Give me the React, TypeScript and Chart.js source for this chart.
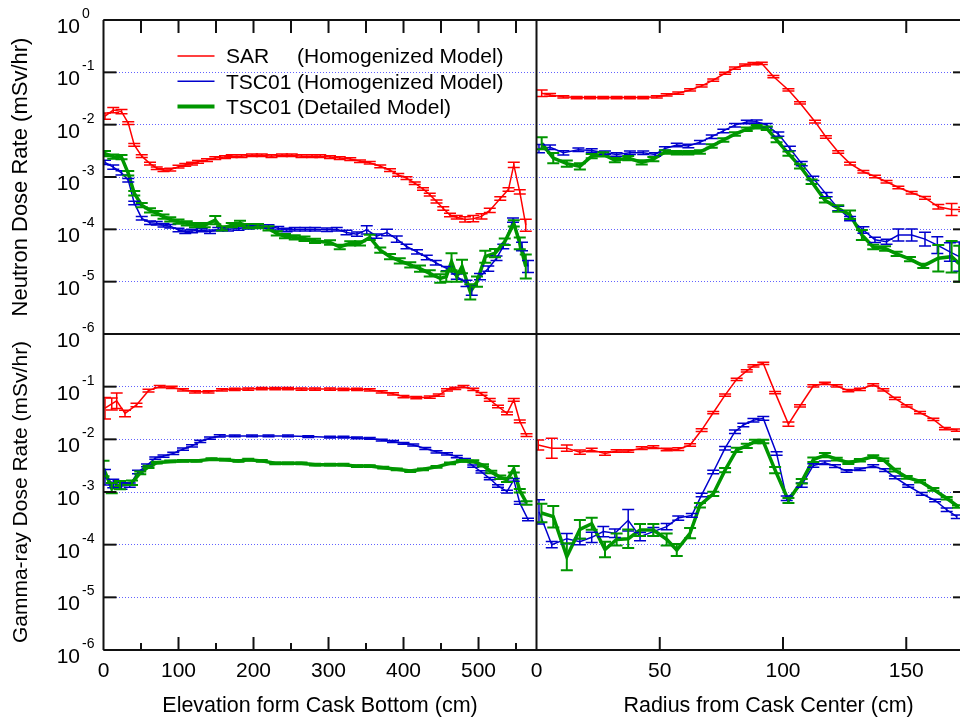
import React, { useEffect, useRef } from 'react';
import { Chart, registerables } from 'chart.js';
Chart.register(...registerables);

type Pt = [number, number, number]; // [position (cm), dose rate (mSv/hr), relative error]

// ---- Neutron, axial (elevation from cask bottom) ----
const neutronAxialSAR: Pt[] = [[2,0.0146,0.15],[13,0.019,0.12],[24,0.0178,0.1],[33,0.0107,0.06],[41,0.0041,0.06],[51,0.0025,0.06],[62,0.0018,0.06],[71,0.00147,0.06],[80,0.00135,0.06],[89,0.00138,0.06],[100,0.00158,0.06],[109,0.0017,0.06],[118,0.0018,0.06],[126,0.00195,0.06],[138,0.0021,0.06],[149,0.0023,0.06],[162,0.0024,0.06],[171,0.0025,0.06],[184,0.0025,0.06],[198,0.0026,0.06],[211,0.0026,0.06],[224,0.0025,0.06],[238,0.0026,0.06],[251,0.0026,0.06],[264,0.0025,0.06],[278,0.0025,0.06],[289,0.0025,0.06],[302,0.0024,0.06],[315,0.0023,0.06],[329,0.0022,0.06],[342,0.002,0.06],[355,0.00187,0.06],[369,0.0016,0.06],[382,0.00135,0.06],[393,0.0011,0.06],[404,0.00095,0.06],[415,0.00076,0.06],[426,0.00059,0.06],[435,0.00046,0.06],[444,0.00034,0.07],[453,0.00025,0.08],[462,0.000187,0.08],[471,0.00017,0.08],[482,0.000155,0.12],[493,0.00016,0.15],[504,0.000177,0.12],[515,0.00023,0.1],[529,0.00039,0.08],[540,0.00058,0.08],[547,0.0017,0.12],[555,0.00052,0.1],[563,0.00012,0.3]];
const neutronAxialTSCHom: Pt[] = [[2,0.0019,0.1],[13,0.00154,0.1],[24,0.0012,0.1],[33,0.00087,0.08],[41,0.00032,0.08],[51,0.000162,0.08],[62,0.000134,0.08],[71,0.00013,0.08],[80,0.00012,0.08],[89,0.000115,0.08],[100,0.000097,0.08],[109,0.00009,0.08],[118,0.000093,0.08],[131,0.000097,0.08],[142,0.00009,0.08],[153,0.0001,0.08],[166,0.0001,0.08],[180,0.000104,0.08],[193,0.00011,0.08],[206,0.000113,0.08],[220,0.000113,0.08],[233,0.000105,0.08],[244,0.000097,0.08],[255,0.0001,0.08],[269,0.0001,0.08],[282,0.0001,0.08],[298,0.000098,0.08],[311,0.0001,0.08],[324,0.000087,0.1],[338,0.000081,0.1],[351,0.0000975,0.2],[364,0.000074,0.1],[378,0.000087,0.15],[391,0.000065,0.15],[404,0.000047,0.1],[418,0.000037,0.1],[431,0.000029,0.1],[443,0.000023,0.1],[458,0.0000178,0.1],[471,0.0000125,0.12],[484,0.0000093,0.15],[491,0.0000069,0.25],[502,0.0000125,0.15],[513,0.0000178,0.12],[524,0.000028,0.1],[533,0.000047,0.1],[546,0.00015,0.1],[558,0.000047,0.2],[566,0.0000195,0.3]];
const neutronAxialTSCDet: Pt[] = [[2,0.0028,0.12],[13,0.00245,0.1],[24,0.0024,0.1],[33,0.00118,0.1],[41,0.00049,0.1],[51,0.00029,0.1],[62,0.00023,0.1],[71,0.000204,0.1],[80,0.000175,0.1],[89,0.000155,0.1],[100,0.00014,0.1],[111,0.00013,0.1],[122,0.00012,0.1],[135,0.00012,0.1],[149,0.00015,0.2],[158,0.000104,0.1],[171,0.00012,0.1],[182,0.00013,0.12],[193,0.000115,0.1],[206,0.000115,0.1],[220,0.000104,0.1],[231,0.000084,0.1],[242,0.000074,0.1],[255,0.00007,0.1],[268,0.000066,0.1],[282,0.00006,0.1],[302,0.000056,0.1],[315,0.000046,0.1],[329,0.000054,0.1],[342,0.000054,0.1],[355,0.00007,0.12],[369,0.00004,0.12],[382,0.00003,0.12],[395,0.000025,0.12],[409,0.000021,0.12],[422,0.0000178,0.15],[435,0.0000144,0.15],[449,0.0000115,0.2],[457,0.0000125,0.25],[464,0.000024,0.45],[471,0.0000125,0.25],[478,0.0000195,0.35],[489,0.0000064,0.4],[498,0.00001,0.25],[509,0.00003,0.3],[522,0.000035,0.2],[535,0.000058,0.15],[547,0.00013,0.15],[555,0.000054,0.3],[563,0.0000195,0.7]];

// ---- Neutron, radial ----
const neutronRadialSAR: Pt[] = [[2.1,0.0398,0.15],[5.5,0.037,0.06],[10.9,0.034,0.05],[16.3,0.033,0.05],[21.7,0.033,0.05],[27.1,0.033,0.05],[32.5,0.033,0.05],[37.9,0.033,0.05],[43.3,0.033,0.05],[48.8,0.034,0.05],[52.8,0.037,0.05],[57.5,0.04,0.05],[62.3,0.046,0.05],[67,0.055,0.05],[71.7,0.071,0.05],[76.5,0.096,0.05],[80.5,0.12,0.05],[84.6,0.138,0.05],[88,0.146,0.05],[91.4,0.148,0.05],[96.1,0.083,0.05],[102.2,0.046,0.05],[106.9,0.026,0.05],[113,0.0114,0.06],[117.4,0.0058,0.06],[122.4,0.003,0.06],[127.2,0.0018,0.06],[132.6,0.00126,0.06],[137.3,0.00102,0.06],[142,0.00081,0.06],[146.8,0.00063,0.06],[152.2,0.0005,0.06],[157.6,0.0004,0.06],[163,0.00027,0.1],[168.4,0.00024,0.3],[173.5,0.00024,0.1]];
const neutronRadialTSCHom: Pt[] = [[1,0.0035,0.2],[5.5,0.0037,0.1],[10.9,0.0029,0.1],[17,0.0033,0.08],[22.4,0.0032,0.08],[27.8,0.0029,0.08],[32.5,0.0027,0.08],[37.9,0.0029,0.08],[43.3,0.0029,0.08],[48.1,0.0027,0.08],[52.1,0.0035,0.08],[56.9,0.0041,0.08],[61.6,0.0039,0.08],[66.3,0.0046,0.08],[71.1,0.0059,0.08],[75.8,0.0076,0.08],[80.5,0.0098,0.08],[85.3,0.0112,0.08],[89.3,0.0114,0.08],[93.4,0.0098,0.08],[98.1,0.0066,0.1],[102.8,0.0035,0.1],[107.6,0.0018,0.1],[112.3,0.00094,0.1],[117.7,0.00046,0.1],[122.4,0.00025,0.1],[127.2,0.00016,0.1],[132.6,0.000097,0.15],[137.3,0.000063,0.12],[142,0.000058,0.12],[146.8,0.000078,0.3],[152.2,0.000078,0.3],[157.6,0.000065,0.35],[162.6,0.00005,0.45],[167.7,0.000037,0.5],[171.5,0.00003,0.9]];
const neutronRadialTSCDet: Pt[] = [[2.1,0.0044,0.3],[6.8,0.0023,0.25],[12.3,0.0018,0.15],[17.6,0.0016,0.15],[22.4,0.0025,0.1],[27.1,0.0027,0.1],[31.8,0.0021,0.1],[37.2,0.0023,0.1],[42.7,0.0019,0.1],[47.4,0.0022,0.1],[52.1,0.003,0.08],[56.9,0.0029,0.08],[61.6,0.0029,0.08],[66.3,0.003,0.08],[71.1,0.0039,0.08],[75.8,0.0051,0.08],[80.5,0.0066,0.08],[85.3,0.0082,0.08],[89.3,0.0091,0.08],[93.4,0.0085,0.08],[97.4,0.0051,0.1],[102.2,0.0028,0.1],[106.9,0.0016,0.1],[111.6,0.00081,0.1],[117,0.00036,0.1],[122.4,0.00025,0.15],[127.2,0.00019,0.2],[132,0.000078,0.25],[136.6,0.000046,0.1],[141.4,0.000043,0.1],[146.1,0.000034,0.1],[151.5,0.000027,0.1],[156.9,0.00002,0.1],[163,0.000028,0.8],[168.4,0.00003,1.0],[171.5,0.000022,1.2]];

// ---- Gamma-ray, axial ----
const gammaAxialSAR: Pt[] = [[2,0.039,0.6],[11,0.047,0.3],[17.6,0.054,0.4],[28.7,0.031,0.15],[44,0.045,0.08],[60,0.084,0.06],[75,0.1,0.05],[91,0.097,0.05],[106,0.087,0.05],[122,0.08,0.05],[140,0.08,0.05],[158,0.087,0.05],[175,0.089,0.05],[193,0.09,0.05],[211,0.092,0.05],[229,0.092,0.05],[246,0.092,0.05],[264,0.09,0.05],[282,0.09,0.05],[302,0.09,0.05],[320,0.089,0.05],[338,0.089,0.05],[355,0.087,0.05],[371,0.08,0.05],[386,0.073,0.05],[400,0.065,0.05],[417,0.062,0.05],[435,0.063,0.05],[447,0.069,0.05],[458,0.087,0.05],[469,0.093,0.05],[480,0.1,0.05],[493,0.089,0.05],[504,0.073,0.06],[515,0.056,0.06],[526,0.042,0.06],[538,0.031,0.06],[547,0.056,0.06],[555,0.022,0.06],[564,0.012,0.06]];
const gammaAxialTSCHom: Pt[] = [[2,0.0019,0.4],[13,0.00145,0.2],[24,0.0013,0.15],[35,0.00135,0.1],[46,0.0024,0.08],[58,0.0032,0.06],[69,0.0044,0.05],[80,0.0048,0.05],[93,0.0054,0.05],[106,0.0065,0.05],[118,0.0075,0.05],[129,0.0091,0.05],[142,0.0105,0.05],[155,0.0116,0.05],[175,0.0116,0.04],[198,0.0116,0.04],[220,0.0116,0.04],[246,0.0116,0.04],[273,0.0113,0.04],[302,0.011,0.04],[320,0.011,0.04],[338,0.0107,0.04],[355,0.0104,0.04],[371,0.0097,0.04],[386,0.0091,0.04],[400,0.0084,0.04],[413,0.0078,0.04],[429,0.0067,0.05],[444,0.0058,0.05],[458,0.0053,0.05],[471,0.0047,0.05],[482,0.0041,0.05],[493,0.0031,0.05],[504,0.0024,0.05],[515,0.0018,0.05],[526,0.0013,0.06],[538,0.00102,0.06],[547,0.0017,0.06],[555,0.00062,0.06],[566,0.0003,0.06]];
const gammaAxialTSCDet: Pt[] = [[0,0.0028,0.4],[11,0.00118,0.25],[22,0.00135,0.2],[38,0.0015,0.1],[49,0.0023,0.06],[60,0.003,0.05],[71,0.0036,0.04],[89,0.0038,0.04],[106,0.0039,0.04],[124,0.0039,0.04],[144,0.0042,0.04],[162,0.0041,0.04],[180,0.0039,0.04],[193,0.0041,0.04],[211,0.0039,0.04],[229,0.0035,0.04],[246,0.0035,0.04],[264,0.0035,0.04],[282,0.0033,0.04],[302,0.0033,0.04],[320,0.0033,0.04],[338,0.0031,0.04],[355,0.0031,0.04],[373,0.0029,0.04],[391,0.0027,0.04],[409,0.0025,0.04],[426,0.0027,0.04],[444,0.003,0.04],[462,0.0035,0.04],[478,0.0039,0.04],[493,0.0038,0.05],[506,0.0032,0.05],[517,0.0024,0.06],[529,0.0019,0.08],[538,0.0017,0.1],[547,0.0027,0.15],[555,0.00106,0.08],[564,0.00062,0.08]];

// ---- Gamma-ray, radial ----
const gammaRadialSAR: Pt[] = [[0.7,0.0078,0.25],[6.2,0.0068,0.55],[12.3,0.0068,0.15],[17.6,0.0057,0.1],[22.4,0.0063,0.08],[27.8,0.0054,0.08],[32.5,0.006,0.06],[37.2,0.006,0.06],[42.7,0.0068,0.06],[47.4,0.0071,0.06],[52.8,0.0064,0.06],[57.5,0.0065,0.06],[62.3,0.0078,0.06],[67,0.015,0.06],[71.7,0.032,0.05],[76.5,0.069,0.05],[81.2,0.138,0.05],[85.3,0.2,0.05],[88,0.247,0.05],[92,0.276,0.05],[96.8,0.077,0.05],[102.2,0.0195,0.1],[106.9,0.043,0.05],[112.3,0.103,0.05],[117,0.116,0.05],[121.8,0.103,0.05],[126.5,0.084,0.05],[131.2,0.089,0.05],[136.6,0.108,0.05],[140.7,0.087,0.05],[145.4,0.06,0.05],[150.2,0.043,0.05],[155.6,0.032,0.05],[161,0.024,0.05],[165.7,0.016,0.05],[170.5,0.015,0.05]];
const gammaRadialTSCHom: Pt[] = [[1,0.00042,0.7],[6.2,0.0001,0.15],[12.3,0.00013,0.25],[17.6,0.000114,0.15],[22.4,0.000138,0.25],[27.1,0.000177,0.25],[31.8,0.000165,0.2],[37.2,0.00029,0.6],[42,0.000142,0.2],[47.4,0.000177,0.2],[52.8,0.00022,0.15],[57.5,0.00032,0.1],[63,0.00036,0.08],[67,0.00088,0.08],[71.7,0.0024,0.08],[76.5,0.0068,0.08],[80.5,0.014,0.08],[83.9,0.0187,0.08],[88,0.023,0.08],[92,0.025,0.08],[97.4,0.0054,0.08],[101.5,0.00076,0.1],[107.6,0.00135,0.1],[112.3,0.0032,0.08],[117,0.0036,0.08],[121.1,0.0031,0.06],[125.8,0.0025,0.06],[131.2,0.0027,0.06],[136.6,0.0031,0.06],[141.4,0.0026,0.06],[145.4,0.0019,0.06],[150.8,0.0013,0.06],[156.3,0.00092,0.06],[161.7,0.00069,0.06],[166.4,0.00046,0.08],[170.5,0.00034,0.08]];
const gammaRadialTSCDet: Pt[] = [[2,0.0004,0.5],[6.8,0.00034,0.6],[12.3,0.000059,0.8],[17.6,0.000195,0.5],[22.4,0.00025,0.3],[27.8,0.000081,0.4],[32.5,0.000126,0.3],[37.2,0.00013,0.5],[42,0.00019,0.3],[47.4,0.00019,0.3],[52.8,0.000126,0.3],[56.9,0.000079,0.3],[62.3,0.000165,0.25],[66.3,0.00056,0.1],[71.7,0.00092,0.1],[76.5,0.0026,0.1],[81.2,0.0063,0.1],[85.3,0.0075,0.1],[88.6,0.0091,0.08],[92,0.0091,0.08],[96.8,0.0026,0.15],[102.2,0.00069,0.12],[107.6,0.0016,0.1],[112.3,0.0041,0.1],[117,0.005,0.1],[121.8,0.0042,0.06],[126.5,0.0036,0.06],[131.2,0.004,0.06],[136.6,0.0047,0.06],[140.7,0.0041,0.06],[145.4,0.0026,0.06],[150.2,0.0019,0.06],[155.6,0.0016,0.06],[161,0.00112,0.06],[166.4,0.00076,0.06],[171,0.00053,0.06]];

// ---- axes / ticks / labels ----
const decadesTop = [1, 1e-1, 1e-2, 1e-3, 1e-4, 1e-5, 1e-6];
const decadesBottom = [1e-1, 1e-2, 1e-3, 1e-4, 1e-5, 1e-6];
const elevationLabels = [0, 100, 200, 300, 400, 500];
const elevationMarks = [50, 100, 150, 200, 250, 300, 350, 400, 450, 500, 550];
const radiusLabels = [0, 50, 100, 150];
const radiusMarks = [50, 100, 150];
const legendNames = ['SAR', 'TSC01', 'TSC01'];
const legendModels = ['(Homogenized Model)', '(Homogenized Model)', '(Detailed Model)'];
const yTitles = ['Neutron Dose Rate (mSv/hr)', 'Gamma-ray Dose Rate (mSv/hr)'];
const xTitles = ['Elevation form Cask Bottom (cm)', 'Radius from Cask Center (cm)'];

const RED = 'rgb(255,0,0)';
const BLUE = 'rgb(0,0,205)';
const GREEN = 'rgb(0,150,0)';
const FONT = "'Liberation Sans', Arial, Helvetica, sans-serif";

const toData = (a: Pt[]) => a.map(([x, y, e]) => ({ x, y, e }));

function mk(label: string, data: Pt[], color: string, width: number, xAxisID: string, yAxisID: string, order: number) {
  return {
    label, data: toData(data), borderColor: color, backgroundColor: color,
    borderWidth: width, pointRadius: 0, pointHoverRadius: 0, tension: 0, fill: false,
    xAxisID, yAxisID, order, errWidth: width > 2 ? 2 : 1.5,
  };
}

const errorBars = {
  id: 'errorBars',
  afterDatasetsDraw(chart: any) {
    const ctx = chart.ctx;
    const cap = 6;
    chart.data.datasets.forEach((ds: any) => {
      const xs = chart.scales[ds.xAxisID];
      const ys = chart.scales[ds.yAxisID];
      ctx.save();
      ctx.beginPath();
      ctx.rect(xs.left, ys.top, xs.right - xs.left, ys.bottom - ys.top);
      ctx.clip();
      ctx.strokeStyle = ds.borderColor;
      ctx.lineWidth = ds.errWidth;
      ds.data.forEach((p: any) => {
        const x = xs.getPixelForValue(p.x);
        const hi = ys.getPixelForValue(p.y * (1 + p.e));
        const lo = ys.getPixelForValue(p.y / (1 + p.e));
        ctx.beginPath();
        ctx.moveTo(x, hi); ctx.lineTo(x, lo);
        ctx.moveTo(x - cap, hi); ctx.lineTo(x + cap, hi);
        ctx.moveTo(x - cap, lo); ctx.lineTo(x + cap, lo);
        ctx.stroke();
      });
      ctx.restore();
    });
  },
};

const decor = {
  id: 'decor',
  afterDraw(chart: any) {
    const ctx = chart.ctx;
    const a = chart.chartArea;
    const { xL, xR, yT, yB } = chart.scales;
    const line = (x1: number, y1: number, x2: number, y2: number) => {
      ctx.beginPath(); ctx.moveTo(x1, y1); ctx.lineTo(x2, y2); ctx.stroke();
    };
    ctx.save();
    ctx.strokeStyle = '#111';
    ctx.lineWidth = 2;
    // frames
    line(a.left, a.top, a.left, a.bottom);
    line(xL.right, a.top, xL.right, a.bottom);
    line(a.left, a.top, a.right, a.top);
    line(a.left, yT.bottom, a.right, yT.bottom);
    line(a.left, a.bottom, a.right, a.bottom);
    // y tick marks (left and right)
    [[yT, decadesTop], [yB, decadesBottom]].forEach(([s, dec]: any) => {
      dec.forEach((v: number) => {
        const y = s.getPixelForValue(v);
        line(a.left, y, a.left + 13, y);
        line(a.right - 7, y, a.right, y);
      });
    });
    // x tick marks top
    elevationMarks.forEach((v) => { const x = xL.getPixelForValue(v); line(x, a.top, x, a.top + 13); });
    radiusMarks.forEach((v) => { const x = xR.getPixelForValue(v); line(x, a.top, x, a.top + 13); });
    // x tick marks bottom
    elevationMarks.forEach((v) => {
      const x = xL.getPixelForValue(v);
      line(x, a.bottom, x, a.bottom - (v % 100 === 0 ? 13 : 7));
    });
    radiusMarks.forEach((v) => { const x = xR.getPixelForValue(v); line(x, a.bottom, x, a.bottom - 13); });

    // y tick labels 10^n
    ctx.fillStyle = '#000';
    [[yT, decadesTop], [yB, decadesBottom]].forEach(([s, dec]: any) => {
      dec.forEach((v: number) => {
        const y = s.getPixelForValue(v);
        const exp = Math.round(Math.log10(v));
        ctx.font = `21px ${FONT}`;
        ctx.textAlign = 'right';
        ctx.textBaseline = 'alphabetic';
        ctx.fillText('10', 80, y + 13);
        ctx.font = `14px ${FONT}`;
        ctx.textAlign = 'left';
        ctx.fillText(exp === 0 ? '0' : '-' + Math.abs(exp), 82, y - 2);
      });
    });

    // axis titles
    ctx.textAlign = 'center';
    ctx.textBaseline = 'middle';
    [[yT, 22], [yB, 21]].forEach(([s, size]: any, i) => {
      ctx.save();
      ctx.translate(21, (s.top + s.bottom) / 2);
      ctx.rotate(-Math.PI / 2);
      ctx.font = `${size}px ${FONT}`;
      ctx.fillText(yTitles[i], 0, 0);
      ctx.restore();
    });
    ctx.font = `21.5px ${FONT}`;
    ctx.fillText(xTitles[0], (xL.left + xL.right) / 2, 706);
    ctx.fillText(xTitles[1], xR.left + (xR.right - xR.left) * 0.548, 706);

    // legend
    const colors = [RED, BLUE, GREEN];
    const widths = [1.5, 1.5, 4];
    ctx.font = `21px ${FONT}`;
    ctx.textAlign = 'left';
    legendNames.forEach((name, i) => {
      const y = 56 + i * 25.3;
      ctx.strokeStyle = colors[i];
      ctx.lineWidth = widths[i];
      line(177.5, y, 214.5, y);
      ctx.fillStyle = '#000';
      ctx.fillText(name, 226, y + 1.5);
      ctx.fillText(legendModels[i], 297, y + 1.5);
    });
    ctx.restore();
  },
};

const zeroPad = (s: any) => { s.paddingLeft = 0; s.paddingRight = 0; s.paddingTop = 0; s.paddingBottom = 0; };

function logY(weight: number, decades: number[]) {
  return {
    type: 'logarithmic', position: 'left', stack: 'y', stackWeight: weight, min: 1e-6, max: 1,
    afterBuildTicks: (s: any) => { s.ticks = decades.map((v) => ({ value: v })); },
    afterFit: (s: any) => { s.width = 103.5; zeroPad(s); },
    ticks: { display: false },
    grid: {
      drawTicks: false, lineWidth: 1,
      color: (c: any) => (c.tick && (c.tick.value > 0.5 || c.tick.value < 2e-6) ? 'rgba(0,0,0,0)' : 'rgba(90,90,255,0.95)'),
    },
    border: { display: false, dash: [1, 2] },
  };
}

function linX(weight: number, max: number, labels: number[]) {
  return {
    type: 'linear', position: 'bottom', stack: 'x', stackWeight: weight, min: 0, max,
    afterBuildTicks: (s: any) => { s.ticks = labels.map((v) => ({ value: v })); },
    afterFit: (s: any) => { s.height = 69; zeroPad(s); },
    ticks: { font: { family: FONT, size: 21 }, color: '#000', padding: 9, maxRotation: 0, autoSkip: false },
    grid: { display: false, drawTicks: false },
    border: { display: false },
  };
}

export default function App() {
  const ref = useRef<HTMLCanvasElement>(null);
  useEffect(() => {
    if (!ref.current) return;
    const chart = new Chart(ref.current, {
      type: 'line',
      data: {
        datasets: [
          mk('SAR (Homogenized Model)', neutronAxialSAR, RED, 1.5, 'xL', 'yT', 2),
          mk('TSC01 (Homogenized Model)', neutronAxialTSCHom, BLUE, 1.5, 'xL', 'yT', 1),
          mk('TSC01 (Detailed Model)', neutronAxialTSCDet, GREEN, 3.5, 'xL', 'yT', 0),
          mk('SAR (Homogenized Model)', neutronRadialSAR, RED, 1.5, 'xR', 'yT', 2),
          mk('TSC01 (Homogenized Model)', neutronRadialTSCHom, BLUE, 1.5, 'xR', 'yT', 1),
          mk('TSC01 (Detailed Model)', neutronRadialTSCDet, GREEN, 3.5, 'xR', 'yT', 0),
          mk('SAR (Homogenized Model)', gammaAxialSAR, RED, 1.5, 'xL', 'yB', 2),
          mk('TSC01 (Homogenized Model)', gammaAxialTSCHom, BLUE, 1.5, 'xL', 'yB', 1),
          mk('TSC01 (Detailed Model)', gammaAxialTSCDet, GREEN, 3.5, 'xL', 'yB', 0),
          mk('SAR (Homogenized Model)', gammaRadialSAR, RED, 1.5, 'xR', 'yB', 2),
          mk('TSC01 (Homogenized Model)', gammaRadialTSCHom, BLUE, 1.5, 'xR', 'yB', 1),
          mk('TSC01 (Detailed Model)', gammaRadialTSCDet, GREEN, 3.5, 'xR', 'yB', 0),
        ] as any,
      },
      options: {
        animation: false,
        responsive: false,
        devicePixelRatio: 1,
        events: [],
        layout: { padding: { left: 0, right: 0, top: 20, bottom: 0 } },
        plugins: { legend: { display: false }, tooltip: { enabled: false }, title: { display: false } },
        scales: {
          xL: linX(433, 577.3, elevationLabels),
          xR: linX(423.5, 171.8, radiusLabels),
          yB: logY(316, decadesBottom),
          yT: logY(314, decadesTop),
        } as any,
      },
      plugins: [errorBars, decor],
    });
    return () => chart.destroy();
  }, []);
  return (
    <div style={{ position: 'absolute', left: 0, top: 0, width: 960, height: 719, overflow: 'hidden', background: '#fff' }}>
      <canvas ref={ref} width={960} height={719} style={{ display: 'block', width: 960, height: 719 }} />
    </div>
  );
}
